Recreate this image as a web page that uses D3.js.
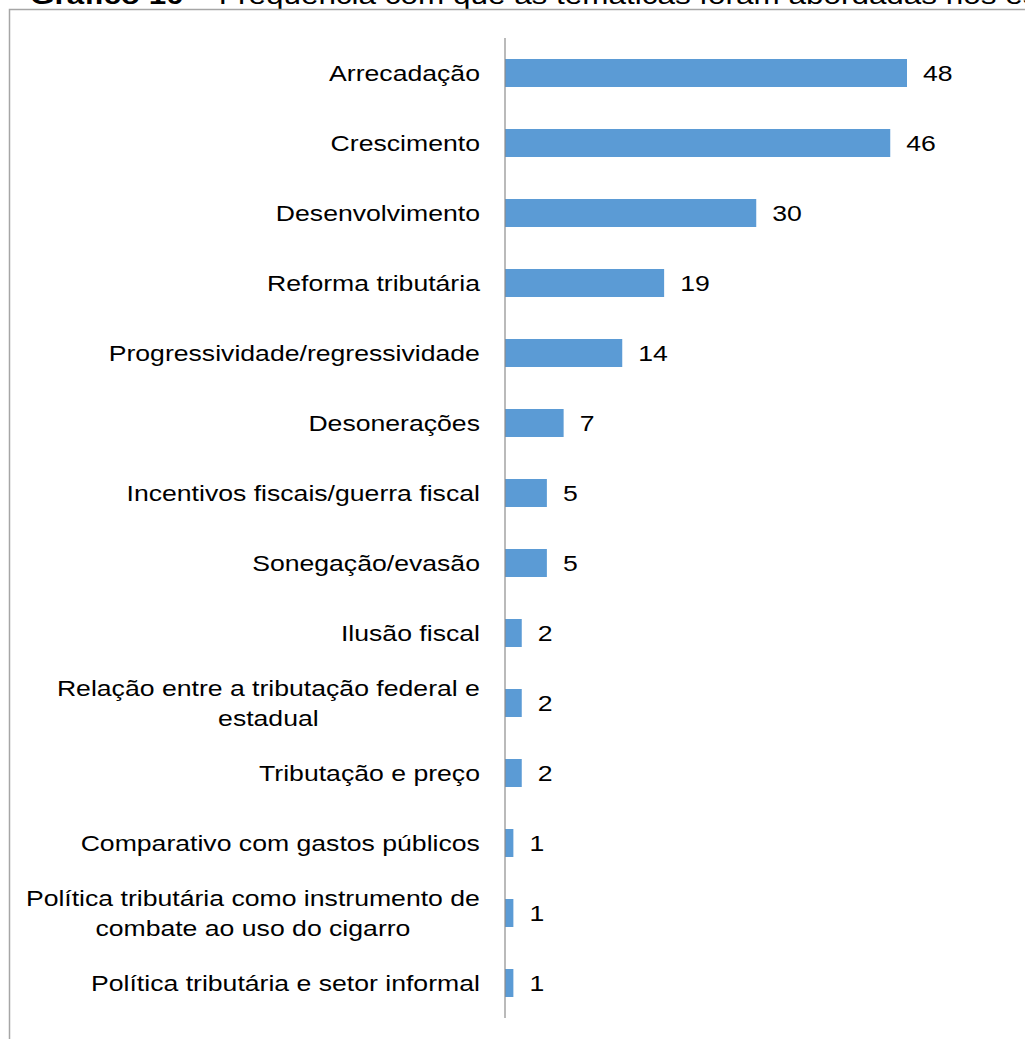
<!DOCTYPE html>
<html>
<head>
<meta charset="utf-8">
<script src="https://cdn.jsdelivr.net/npm/d3@7"></script>
<style>
  body { margin: 0; background: #fff; }
  svg { display: block; font-family: "Liberation Sans", Arial, sans-serif; }
</style>
</head>
<body>
<div id="chart"></div>
<script>
// categories, top to bottom (multi-line labels split with \n)
const categories = [
  'Arrecadação',
  'Crescimento',
  'Desenvolvimento',
  'Reforma tributária',
  'Progressividade/regressividade',
  'Desonerações',
  'Incentivos fiscais/guerra fiscal',
  'Sonegação/evasão',
  'Ilusão fiscal',
  'Relação entre a tributação federal e\nestadual',
  'Tributação e preço',
  'Comparativo com gastos públicos',
  'Política tributária como instrumento de\ncombate ao uso do cigarro',
  'Política tributária e setor informal'
];

const counts = [48, 46, 30, 19, 14, 7, 5, 5, 2, 2, 2, 1, 1, 1];

const titleText = 'Gráfico 10 – Frequência com que as temáticas foram abordadas nos estudos';

const W = 1025, H = 1039;
const axisX = 505, labelX = 480;
// the source image is stretched horizontally
const sx = 1.21;

const svg = d3.select('#chart').append('svg')
  .attr('width', W)
  .attr('height', H);

// title, cut off by the top of the page like the source
const title = svg.append('text')
  .attr('transform', 'translate(30,4) scale(' + sx + ',1)')
  .attr('font-size', 26)
  .attr('fill', '#000');
title.append('tspan').attr('font-weight', 'bold').text('Gráfico 10');
title.append('tspan').text(titleText.replace('Gráfico 10', ''));

// chart frame
svg.append('rect')
  .attr('x', 9.5)
  .attr('y', 9.5)
  .attr('width', W + 20)
  .attr('height', H + 20)
  .attr('fill', 'none')
  .attr('stroke', '#a6a6a6')
  .attr('stroke-width', 1.5);

const x = d3.scaleLinear().domain([0, 48]).range([axisX, 907]);

const y = d3.scaleBand()
  .domain(categories)
  .range([38, 1018])
  .paddingInner(0.6)
  .paddingOuter(0.3);

svg.selectAll('.bar')
  .data(categories)
  .enter().append('rect')
    .attr('class', 'bar')
    .attr('x', x(0))
    .attr('y', d => y(d))
    .attr('width', (d, i) => x(counts[i]) - x(0))
    .attr('height', y.bandwidth())
    .attr('fill', '#5b9bd5');

// value labels
svg.selectAll('.val')
  .data(categories)
  .enter().append('text')
    .attr('class', 'val')
    .attr('transform', (d, i) => 'translate(' + (x(counts[i]) + 16) + ',' + (y(d) + y.bandwidth() / 2) + ') scale(' + sx + ',1)')
    .attr('dy', '0.38em')
    .attr('font-size', 22)
    .attr('fill', '#000')
    .text((d, i) => counts[i]);

// category labels: block right aligned at labelX, lines centred inside
const lineH = 30;
categories.forEach(c => {
  const lines = c.split('\n');
  const cy = y(c) + y.bandwidth() / 2;
  const g = svg.append('g');
  const t = g.append('text')
    .attr('font-size', 22)
    .attr('fill', '#000')
    .attr('text-anchor', 'middle');
  lines.forEach((ln, k) => {
    t.append('tspan')
      .attr('x', 0)
      .attr('y', cy + (k - (lines.length - 1) / 2) * lineH)
      .attr('dy', '0.36em')
      .text(ln);
  });
  let maxW = 0;
  t.selectAll('tspan').each(function() { maxW = Math.max(maxW, this.getComputedTextLength()); });
  g.attr('transform', 'translate(' + (labelX - maxW * sx / 2) + ',0) scale(' + sx + ',1)');
});

// vertical category axis line
svg.append('line')
  .attr('x1', axisX).attr('x2', axisX)
  .attr('y1', 38).attr('y2', 1018)
  .attr('stroke', '#8c8c8c')
  .attr('stroke-width', 1.2);
</script>
</body>
</html>
